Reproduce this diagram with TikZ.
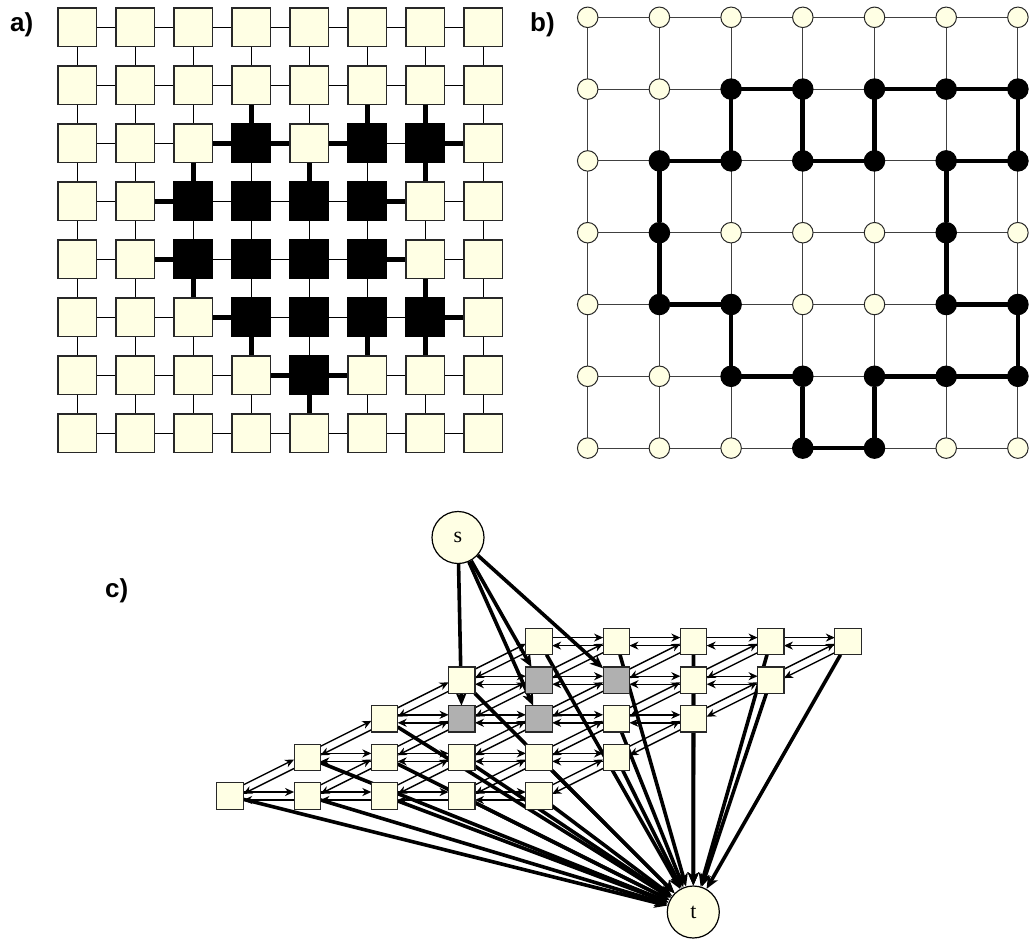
\documentclass[tikz,border=0pt]{standalone}
\usepackage{fontspec}
\setmainfont{Liberation Serif}
\setsansfont{Liberation Sans}
\usetikzlibrary{arrows.meta,calc}
\definecolor{cream}{RGB}{255,255,228}
\definecolor{gnode}{RGB}{176,176,176}
\definecolor{bord}{RGB}{40,40,40}
\pgfdeclarelayer{bg}
\pgfsetlayers{bg,main}
\newcommand\biarr[4]{%
  \draw[tarr,shorten <=#3,shorten >=#4] ($(#1)!4pt!90:(#2)$) -- ($(#2)!4pt!-90:(#1)$);
  \draw[tarr,shorten <=#3,shorten >=#4] ($(#2)!4pt!90:(#1)$) -- ($(#1)!4pt!-90:(#2)$);}
\foreach \p in {2-3,2-5,2-6,3-2,3-3,3-4,3-5,4-2,4-3,4-4,4-5,5-3,5-4,5-5,5-6,6-4}{\expandafter\gdef\csname blkA\p\endcsname{}}
\foreach \p in {1-2,1-3,1-4,1-5,1-6,2-1,2-2,2-3,2-4,2-5,2-6,3-1,3-5,4-1,4-2,4-5,4-6,5-2,5-3,5-4,5-5,5-6,6-3,6-4}{\expandafter\gdef\csname blkB\p\endcsname{}}
\foreach \p in {1-2,2-2,1-3,2-3}{\expandafter\gdef\csname gryC\p\endcsname{}}
\begin{document}
\begin{tikzpicture}[x=1pt,y=-1pt,
 sqa/.style={draw=bord,line width=1.3pt,fill=cream,minimum size=38.5pt,inner sep=0pt,outer sep=0pt},
 blk/.style={fill=black,draw=black},
 cb/.style={circle,draw=bord,line width=1pt,fill=cream,minimum size=20.5pt,inner sep=0pt,outer sep=0pt},
 sqc/.style={draw=bord,line width=1.2pt,fill=cream,minimum size=26.3pt,inner sep=0pt,outer sep=0pt},
 gry/.style={fill=gnode},
 term/.style={circle,draw=black,line width=1.2pt,fill=cream,minimum size=52pt,inner sep=0pt,font=\fontsize{22}{22}\selectfont},
 thina/.style={line width=1pt,draw=black},
 thicka/.style={line width=4.7pt,draw=black},
 thinb/.style={line width=1pt,draw=black!75},
 thickb/.style={line width=4.7pt,draw=black},
 tarr/.style={line width=1.4pt,-{Stealth[length=9pt,width=8pt,inset=2.8pt]}},
 karr/.style={line width=3.6pt,-{Stealth[length=13pt,width=11pt,inset=3.5pt]}},
 lbl/.style={font=\sffamily\bfseries\fontsize{26}{26}\selectfont,inner sep=0pt,anchor=base west}
]
\useasboundingbox (0,0) rectangle (1031,940);
\node[lbl] (la) at (10,31.7) {a)};
\node[lbl] (lb) at (530,31.7) {b)};
\node[lbl] (lc) at (105,597) {c)};
% ---------- panel a ----------
\foreach \r in {0,...,7}{\foreach \c in {0,...,7}{
  \ifcsname blkA\r-\c\endcsname
    \node[sqa,blk] (a\r-\c) at ({77.3+58*\c},{27.3+58*\r}) {};
  \else
    \node[sqa] (a\r-\c) at ({77.3+58*\c},{27.3+58*\r}) {};
  \fi}}
\begin{pgfonlayer}{bg}
\foreach \r in {0,...,7}{\foreach \c [evaluate=\c as \cn using int(\c+1)] in {0,...,6}{
  \edef\A{\ifcsname blkA\r-\c\endcsname 1\else 0\fi}%
  \edef\B{\ifcsname blkA\r-\cn\endcsname 1\else 0\fi}%
  \ifnum\A=\B\relax \draw[thina] (a\r-\c) -- (a\r-\cn); \else \draw[thicka] (a\r-\c) -- (a\r-\cn); \fi}}
\foreach \c in {0,...,7}{\foreach \r [evaluate=\r as \rn using int(\r+1)] in {0,...,6}{
  \edef\A{\ifcsname blkA\r-\c\endcsname 1\else 0\fi}%
  \edef\B{\ifcsname blkA\rn-\c\endcsname 1\else 0\fi}%
  \ifnum\A=\B\relax \draw[thina] (a\r-\c) -- (a\rn-\c); \else \draw[thicka] (a\r-\c) -- (a\rn-\c); \fi}}
\end{pgfonlayer}
% ---------- panel b ----------
\foreach \r in {0,...,6}{\foreach \c in {0,...,6}{
  \ifcsname blkB\r-\c\endcsname
    \node[cb,blk] (b\r-\c) at ({587.7+71.7*\c},{17.3+71.8*\r}) {};
  \else
    \node[cb] (b\r-\c) at ({587.7+71.7*\c},{17.3+71.8*\r}) {};
  \fi}}
\begin{pgfonlayer}{bg}
\foreach \r in {0,...,6}{\foreach \c [evaluate=\c as \cn using int(\c+1)] in {0,...,5}{
  \draw[thinb] (b\r-\c) -- (b\r-\cn);
  \draw[thinb] (b\c-\r) -- (b\cn-\r);}}
\foreach \u/\v in {1-2/1-3,1-4/1-5,1-5/1-6,2-1/2-2,2-3/2-4,2-5/2-6,4-1/4-2,4-5/4-6,5-2/5-3,5-4/5-5,5-5/5-6,6-3/6-4,1-2/2-2,1-3/2-3,1-4/2-4,1-6/2-6,2-1/3-1,2-5/3-5,3-1/4-1,3-5/4-5,4-2/5-2,4-6/5-6,5-3/6-3,5-4/6-4}
  \draw[thickb] (b\u) -- (b\v);
\end{pgfonlayer}
% ---------- panel c ----------
\node[term] (s) at (458,537.5) {s};
\node[term] (t) at (693.3,912) {t};
\foreach \j in {0,...,4}{\foreach \i in {0,...,4}{
  \pgfmathsetmacro\xx{230+77.25*(\i+\j)}
  \pgfmathsetmacro\yy{796-38.6*\j}
  \ifcsname gryC\i-\j\endcsname
    \node[sqc,gry] (c\i-\j) at (\xx,\yy) {};
  \else
    \node[sqc] (c\i-\j) at (\xx,\yy) {};
  \fi}}
\begin{pgfonlayer}{bg}
\foreach \j in {0,...,4}{\foreach \i [evaluate=\i as \in using int(\i+1)] in {0,...,3}{
  \biarr{c\i-\j}{c\in-\j}{13.15pt}{13.15pt}}}
\foreach \i in {0,...,4}{\foreach \j [evaluate=\j as \jn using int(\j+1)] in {0,...,3}{
  \biarr{c\i-\j}{c\i-\jn}{16.7pt}{12.7pt}}}
\foreach \n in {1-2,1-3,2-2,2-3} \draw[karr] (s) -- (c\n);
\foreach \j in {0,...,4}{\foreach \i in {0,...,4}{
  \ifcsname gryC\i-\j\endcsname\else \draw[karr] (c\i-\j) -- (t); \fi}}
\end{pgfonlayer}
\end{tikzpicture}
\end{document}
